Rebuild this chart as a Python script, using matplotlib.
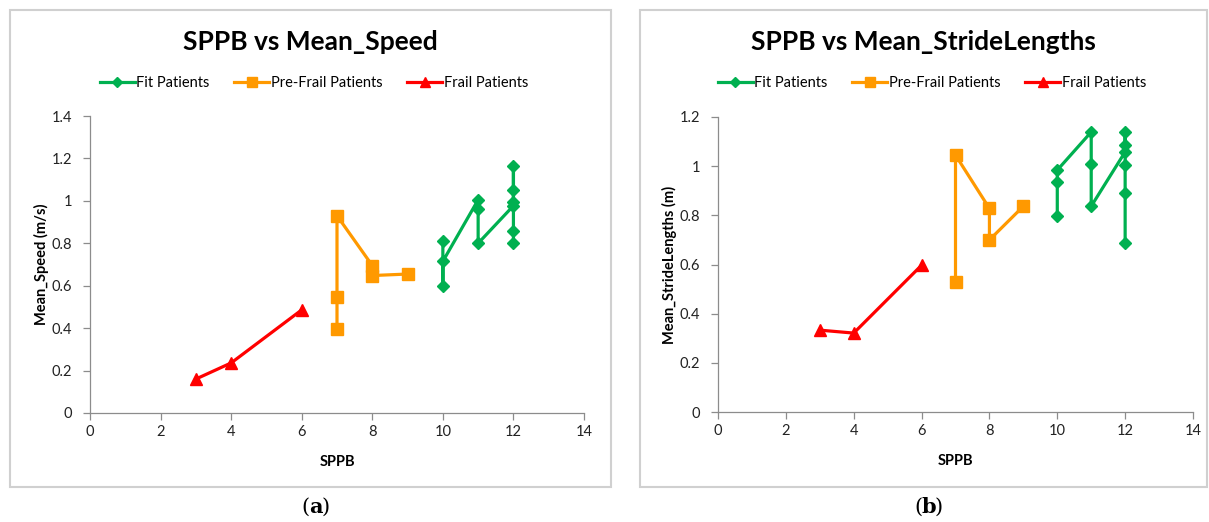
import matplotlib.pyplot as plt
from matplotlib.patches import Rectangle

# Chart data
speed_fit_x = [10, 10, 10, 11, 11, 11, 12, 12, 12, 12, 12, 12]
speed_fit_y = [0.81, 0.60, 0.715, 1.005, 0.963, 0.80, 0.977, 1.165, 1.052, 0.996, 0.86, 0.80]
speed_pre_x = [7, 7, 7, 8, 8, 9]
speed_pre_y = [0.395, 0.545, 0.93, 0.695, 0.648, 0.655]
speed_frail_x = [3, 4, 6]
speed_frail_y = [0.16, 0.236, 0.486]

stride_fit_x = [10, 10, 10, 11, 11, 11, 12, 12, 12, 12, 12, 12]
stride_fit_y = [0.797, 0.936, 0.984, 1.139, 1.007, 0.837, 1.058, 1.139, 1.085, 1.004, 0.891, 0.687]
stride_pre_x = [7, 7, 8, 8, 9]
stride_pre_y = [0.528, 1.045, 0.828, 0.70, 0.837]
stride_frail_x = [3, 4, 6]
stride_frail_y = [0.333, 0.321, 0.597]

x_ticks = [0, 2, 4, 6, 8, 10, 12, 14]
speed_ticks = [0, 0.2, 0.4, 0.6, 0.8, 1.0, 1.2, 1.4]
speed_labels = ['0', '0.2', '0.4', '0.6', '0.8', '1', '1.2', '1.4']
stride_ticks = [0, 0.2, 0.4, 0.6, 0.8, 1.0, 1.2]
stride_labels = ['0', '0.2', '0.4', '0.6', '0.8', '1', '1.2']

# Style
green = '#00B050'
orange = '#FF9900'
red = '#FF0000'
axis_grey = '#8C8C8C'
box_grey = '#D0D0D0'
plt.rcParams['font.family'] = ['Lato', 'DejaVu Sans']

W, H = 1209, 522
fig = plt.figure(figsize=(W / 100, H / 100), dpi=100)


def fx(px):
    return px / W


def fy(py):
    return 1 - py / H


def panel(box, ax_px, title, ylabel, fit, pre, frail, yticks, ylabels, ymax, letter, leg_x):
    bx0, by0, bx1, by1 = box
    fig.patches.append(Rectangle((fx(bx0), fy(by1)), fx(bx1 - bx0), (by1 - by0) / H,
                                 transform=fig.transFigure, fill=False,
                                 edgecolor=box_grey, linewidth=1.5))
    x0, y0, x1, y1 = ax_px
    ax = fig.add_axes([fx(x0), fy(y1), fx(x1 - x0), (y1 - y0) / H])
    ax.plot(fit[0], fit[1], color=green, linewidth=2.3, marker='D', markersize=6.5,
            label='Fit Patients')
    ax.plot(pre[0], pre[1], color=orange, linewidth=2.3, marker='s', markersize=8.5,
            label='Pre-Frail Patients')
    ax.plot(frail[0], frail[1], color=red, linewidth=2.3, marker='^', markersize=9,
            label='Frail Patients')
    ax.set_xlim(0, 14)
    ax.set_ylim(0, ymax)
    ax.set_xticks(x_ticks)
    ax.set_xticklabels([str(t) for t in x_ticks])
    ax.set_yticks(yticks)
    ax.set_yticklabels(ylabels)
    for s in ['top', 'right']:
        ax.spines[s].set_visible(False)
    for s in ['left', 'bottom']:
        ax.spines[s].set_color(axis_grey)
        ax.spines[s].set_linewidth(0.9)
    ax.tick_params(axis='both', colors=axis_grey, labelcolor='#222222', labelsize=10.5,
                   length=5, width=0.9, direction='out')
    ax.tick_params(axis='y', pad=8)
    ax.set_xlabel('SPPB', fontsize=10.5, fontweight='bold', labelpad=12)
    ax.set_ylabel(ylabel, fontsize=10.5, fontweight='bold', labelpad=2)
    for line in ax.get_lines():
        line.set_clip_on(False)

    cx = fx((bx0 + bx1) / 2)
    fig.text(cx, fy(42), title, ha='center', va='center', fontsize=19, fontweight='bold')
    ax.legend(loc='center', bbox_to_anchor=(leg_x, fy(83)), bbox_transform=fig.transFigure,
              ncol=3, frameon=False, fontsize=10.5, handlelength=2.4, handletextpad=0.1,
              columnspacing=1.7, markerscale=0.85)

    # panel letter below the box, bold letter in parentheses
    ly = fy(507)
    lx = fx((bx0 + bx1) / 2 + 5)
    fig.text(lx, ly, letter, ha='center', va='center', fontsize=15, fontweight='bold',
             family='DejaVu Serif')
    fig.text(lx - fx(6), ly, '(', ha='right', va='center', fontsize=15, family='DejaVu Serif')
    fig.text(lx + fx(6), ly, ')', ha='left', va='center', fontsize=15, family='DejaVu Serif')
    return ax


panel((10, 10, 611, 487), (90, 116, 584, 413), 'SPPB vs Mean_Speed', 'Mean_Speed (m/s)',
      (speed_fit_x, speed_fit_y), (speed_pre_x, speed_pre_y), (speed_frail_x, speed_frail_y),
      speed_ticks, speed_labels, 1.4, 'a', fx(314))

panel((640, 10, 1207, 487), (718, 117, 1193, 412), 'SPPB vs Mean_StrideLengths',
      'Mean_StrideLengths (m)',
      (stride_fit_x, stride_fit_y), (stride_pre_x, stride_pre_y), (stride_frail_x, stride_frail_y),
      stride_ticks, stride_labels, 1.2, 'b', fx(932))

fig.savefig('out.png', dpi=100)
